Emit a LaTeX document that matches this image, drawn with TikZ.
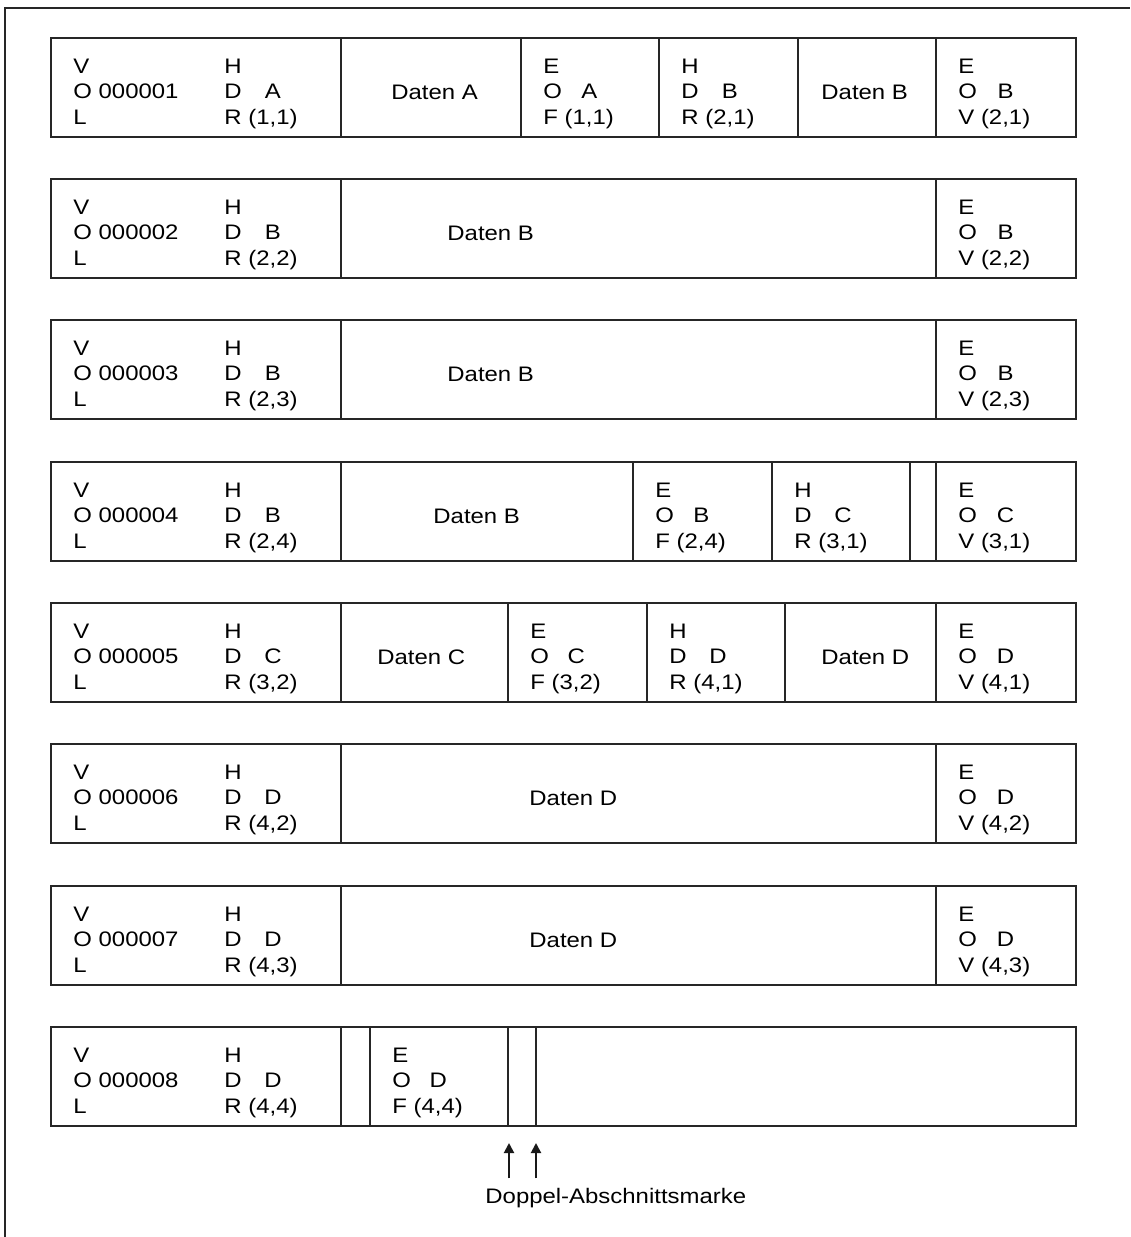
\documentclass[tikz,border=0pt]{standalone}
\usepackage{fontspec}
\usepackage{calc}
\setmainfont[FakeStretch=1.14]{Liberation Sans}
\usetikzlibrary{arrows.meta}

% three-line tape labels; the middle letter sits centred over the (x,y) part
\newcommand{\volblk}[1]{\begin{tabular}[t]{@{}l@{}}V\\O #1\\L\end{tabular}}
\newcommand{\labblk}[5]{\begin{tabular}[t]{@{}l@{}}#1\\%
  \makebox[\widthof{#3\space}][l]{#2}\makebox[\widthof{(#5)}]{#4}\\%
  #3 (#5)\end{tabular}}

\begin{document}
\begin{tikzpicture}[
  x=0.5pt, y=-0.5pt,
  font=\fontsize{10.5}{12.75}\selectfont,
  frame/.style={draw=black!85, line width=1pt},
  lbl/.style={anchor=base west, inner sep=0pt},
  tapemark/.style={-{Triangle[length=5pt,width=5pt]}, line width=1pt, draw=black!90}
]
\useasboundingbox (0,0) rectangle (1130,1237);

% outer frame (only left and top edge visible)
\draw[frame] (5,1237) -- (5,8) -- (1130,8);

% tape boxes: top edge / dividers
\foreach \t/\divs in {38/{341,521,659,798,936}, 179/{341,936}, 320/{341,936},
    462/{341,633,772,910,936}, 603/{341,508,647,785,936}, 744/{341,936},
    886/{341,936}, 1027/{341,370,508,536}} {
  \draw[frame] (51,\t) rectangle (1076,\t+99);
  \foreach \d in \divs
    \draw[frame] (\d,\t) -- (\d,\t+99);
}

% volume 1
\node[lbl] (vol1) at (73,73) {\volblk{000001}};
\node[lbl] (hdr1a) at (224,73) {\labblk{H}{D}{R}{A}{1,1}};
\node[lbl] (dat1a) at (391,99) {Daten A};
\node[lbl] (eof1a) at (543,73) {\labblk{E}{O}{F}{A}{1,1}};
\node[lbl] (hdr1b) at (681,73) {\labblk{H}{D}{R}{B}{2,1}};
\node[lbl] (dat1b) at (821,99) {Daten B};
\node[lbl] (eov1) at (958,73) {\labblk{E}{O}{V}{B}{2,1}};

% volume 2
\node[lbl] (vol2) at (73,214) {\volblk{000002}};
\node[lbl] (hdr2) at (224,214) {\labblk{H}{D}{R}{B}{2,2}};
\node[lbl] (dat2) at (447,240) {Daten B};
\node[lbl] (eov2) at (958,214) {\labblk{E}{O}{V}{B}{2,2}};

% volume 3
\node[lbl] (vol3) at (73,355) {\volblk{000003}};
\node[lbl] (hdr3) at (224,355) {\labblk{H}{D}{R}{B}{2,3}};
\node[lbl] (dat3) at (447,381) {Daten B};
\node[lbl] (eov3) at (958,355) {\labblk{E}{O}{V}{B}{2,3}};

% volume 4
\node[lbl] (vol4) at (73,497) {\volblk{000004}};
\node[lbl] (hdr4b) at (224,497) {\labblk{H}{D}{R}{B}{2,4}};
\node[lbl] (dat4b) at (433,523) {Daten B};
\node[lbl] (eof4b) at (655,497) {\labblk{E}{O}{F}{B}{2,4}};
\node[lbl] (hdr4c) at (794,497) {\labblk{H}{D}{R}{C}{3,1}};
\node[lbl] (eov4) at (958,497) {\labblk{E}{O}{V}{C}{3,1}};

% volume 5
\node[lbl] (vol5) at (73,638) {\volblk{000005}};
\node[lbl] (hdr5c) at (224,638) {\labblk{H}{D}{R}{C}{3,2}};
\node[lbl] (dat5c) at (377,664) {Daten C};
\node[lbl] (eof5c) at (530,638) {\labblk{E}{O}{F}{C}{3,2}};
\node[lbl] (hdr5d) at (669,638) {\labblk{H}{D}{R}{D}{4,1}};
\node[lbl] (dat5d) at (821,664) {Daten D};
\node[lbl] (eov5) at (958,638) {\labblk{E}{O}{V}{D}{4,1}};

% volume 6
\node[lbl] (vol6) at (73,779) {\volblk{000006}};
\node[lbl] (hdr6) at (224,779) {\labblk{H}{D}{R}{D}{4,2}};
\node[lbl] (dat6) at (529,805) {Daten D};
\node[lbl] (eov6) at (958,779) {\labblk{E}{O}{V}{D}{4,2}};

% volume 7
\node[lbl] (vol7) at (73,921) {\volblk{000007}};
\node[lbl] (hdr7) at (224,921) {\labblk{H}{D}{R}{D}{4,3}};
\node[lbl] (dat7) at (529,947) {Daten D};
\node[lbl] (eov7) at (958,921) {\labblk{E}{O}{V}{D}{4,3}};

% volume 8, ends with the double tape mark
\node[lbl] (vol8) at (73,1062) {\volblk{000008}};
\node[lbl] (hdr8) at (224,1062) {\labblk{H}{D}{R}{D}{4,4}};
\node[lbl] (eof8) at (392,1062) {\labblk{E}{O}{F}{D}{4,4}};

\coordinate (tm1) at (509,1143);
\coordinate (tm2) at (536,1143);
\node[lbl] (dam) at (485,1203) {Doppel-Abschnittsmarke};
\draw[tapemark, shorten <=4.5pt] (dam.north -| tm1) -- (tm1);
\draw[tapemark, shorten <=4.5pt] (dam.north -| tm2) -- (tm2);

\end{tikzpicture}
\end{document}
